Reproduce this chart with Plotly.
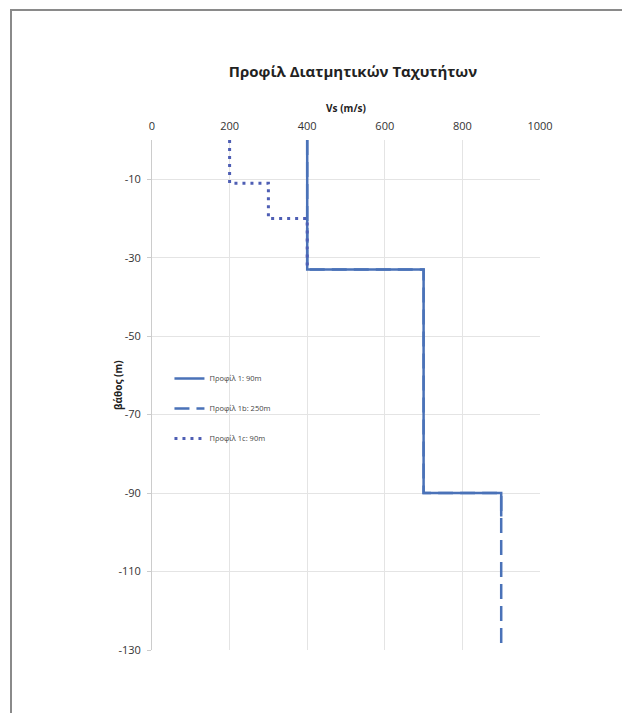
import plotly.graph_objects as go

# Shear-wave velocity profiles (Vs in m/s, depth in m, negative downward)
vs_p1 = [400, 400, 700, 700, 900, 900]
depth_p1 = [0, -33, -33, -90, -90, -96]

vs_p1b = [400, 400, 700, 700, 900, 900]
depth_p1b = [0, -33, -33, -90, -90, -130]

vs_p1c = [200, 200, 300, 300, 400, 400]
depth_p1c = [0, -11, -11, -20, -20, -33]

names = ["Προφίλ 1: 90m", "Προφίλ 1b: 250m", "Προφίλ 1c: 90m"]

x_ticks = [0, 200, 400, 600, 800, 1000]
y_ticks = [-10, -30, -50, -70, -90, -110, -130]
y_ticktext = ["-10", "-30", "-50", "-70", "-90", "-110", "-130"]

blue = "#4A72B8"
dot_blue = "#4E5EB4"

fig = go.Figure()

# dashed profile sits underneath the solid one
fig.add_trace(go.Scatter(
    x=vs_p1b, y=depth_p1b, mode="lines", name=names[1],
    line=dict(color=blue, width=2.5, dash="15px,7px"),
    legendgroup="b", legendrank=2,
))
fig.add_trace(go.Scatter(
    x=vs_p1, y=depth_p1, mode="lines", name=names[0],
    line=dict(color=blue, width=2.5),
    legendgroup="a", legendrank=1,
))
fig.add_trace(go.Scatter(
    x=vs_p1c, y=depth_p1c, mode="lines", name=names[2],
    line=dict(color=dot_blue, width=3, dash="3px,5px"),
    legendgroup="c", legendrank=3,
))

font_family = "Open Sans, Noto Sans, DejaVu Sans, sans-serif"

fig.update_layout(
    width=622, height=713,
    margin=dict(l=152, r=82, t=140, b=63),
    paper_bgcolor="white", plot_bgcolor="white",
    font=dict(family=font_family, color="#333333", size=10),
    title=dict(
        text="<b>Προφίλ Διατμητικών Ταχυτήτων</b>",
        x=353 / 622, xref="container", xanchor="center",
        y=1 - 72 / 713, yref="container", yanchor="middle",
        font=dict(size=15, color="#222222", family=font_family),
    ),
    xaxis=dict(
        side="top", range=[0, 1000], tickvals=x_ticks,
        showgrid=True, gridcolor="#e4e4e4", gridwidth=1,
        zeroline=False, showline=False,
        ticks="", tickfont=dict(size=11, color="#333333"),
        ticklabelstandoff=7,
        title=dict(text="<b>Vs (m/s)</b>", font=dict(size=10, color="#222222"),
                   standoff=3),
    ),
    yaxis=dict(
        range=[-130, 0], tickvals=y_ticks, ticktext=y_ticktext,
        showgrid=True, gridcolor="#e4e4e4", gridwidth=1,
        zeroline=False, showline=True, linecolor="#cccccc", linewidth=1,
        ticks="outside", ticklen=4, tickcolor="#cccccc",
        tickfont=dict(size=11, color="#333333"),
        ticklabelstandoff=4,
    ),
    legend=dict(
        x=0.045, y=(650 - 364) / 510, xanchor="left", yanchor="top",
        bgcolor="rgba(255,255,255,0)", borderwidth=0,
        font=dict(size=7.5, color="#444444"),
        tracegroupgap=11,
    ),
    showlegend=True,
)

# rotated depth-axis title
fig.add_annotation(
    text="<b>βάθος (m)</b>", textangle=-90,
    xref="paper", yref="paper",
    x=(118 - 152) / 388, y=(650 - 385) / 510,
    xanchor="center", yanchor="middle", showarrow=False,
    font=dict(size=10, color="#222222", family=font_family),
)

# page frame: top and left rule
frame = dict(color="#8a8a8a", width=2)
fig.add_shape(type="line", xref="paper", yref="paper",
              x0=(10 - 152) / 388, x1=(622 - 152) / 388,
              y0=(650 - 10) / 510, y1=(650 - 10) / 510, line=frame)
fig.add_shape(type="line", xref="paper", yref="paper",
              x0=(11 - 152) / 388, x1=(11 - 152) / 388,
              y0=(650 - 10) / 510, y1=(650 - 713) / 510, line=frame)

fig.write_html("out.html")
